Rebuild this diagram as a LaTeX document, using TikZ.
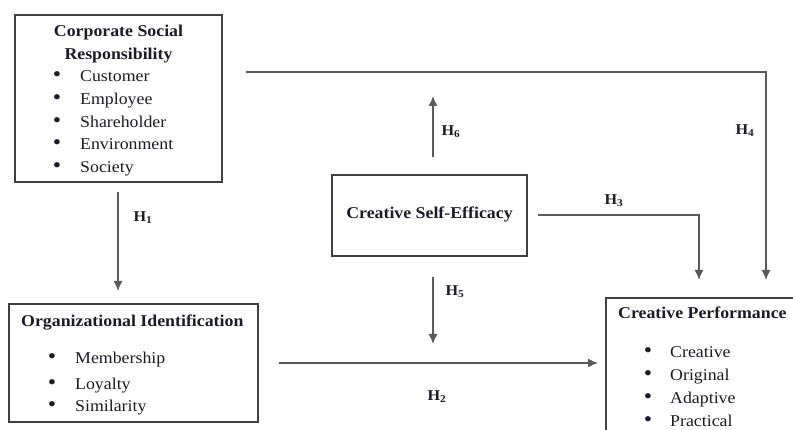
\documentclass[tikz,border=0pt]{standalone}
\usepackage{fontspec}
\setmainfont[FakeStretch=1.08]{Liberation Serif}
\usetikzlibrary{arrows.meta}
\definecolor{ink}{HTML}{1C1C28}
\definecolor{linegray}{HTML}{5A5A5A}
\definecolor{boxgray}{HTML}{404040}
\tikzset{
  box/.style={draw=boxgray, line width=1.3pt, rectangle, inner sep=0pt},
  conn/.style={draw=linegray, line width=1.4pt},
  arr/.style={conn, -{Latex[length=10pt,width=9pt]}},
  ttl/.style={font=\fontsize{16.5}{20}\selectfont\bfseries, text=ink, inner sep=0pt},
  itm/.style={font=\fontsize{16.5}{20}\selectfont, text=ink, inner sep=0pt, anchor=base west},
  bul/.style={font=\fontsize{22}{22}\selectfont, text=ink, inner sep=0pt, anchor=base},
  hl/.style={font=\fontsize{15}{18}\selectfont\bfseries, text=ink, inner sep=0pt},
}
\begin{document}
\begin{tikzpicture}[x=1pt,y=-1pt]
\clip (0,0) rectangle (793,430);
\fill[white] (0,0) rectangle (793,430);

% boxes
\node[box, minimum width=207pt, minimum height=167pt] (csr) at (118.5,98.5) {};
\node[box, minimum width=249pt, minimum height=118pt] (oi) at (133.5,363) {};
\node[box, minimum width=195pt, minimum height=81pt] (cse) at (429.5,215.5) {};
\node[box, minimum width=200pt, minimum height=150pt] (cp) at (706,373) {};

% CSR content
\node[ttl, anchor=base] (csrt1) at (118.5,37) {Corporate Social};
\node[ttl, anchor=base] (csrt2) at (118.5,60) {Responsibility};
\foreach \t/\y [count=\i] in {Customer/82, Employee/105, Shareholder/128, Environment/150, Society/173}{
  \node[bul] (csrb\i) at (57,\y) {•};
  \node[itm] (csri\i) at (80,\y) {\t};
}

% OI content
\node[ttl, anchor=base west] (oit) at (21,327) {Organizational Identification};
\foreach \t/\y [count=\i] in {Membership/364, Loyalty/389, Similarity/412}{
  \node[bul] (oib\i) at (52,\y) {•};
  \node[itm] (oii\i) at (75,\y) {\t};
}

% CSE content
\node[ttl, anchor=base] (cset) at (429.5,219) {Creative Self-Efficacy};

% CP content
\node[ttl, anchor=base west] (cpt) at (618,319) {Creative Performance};
\foreach \t/\y [count=\i] in {Creative/358, Original/381, Adaptive/404, Practical/427}{
  \node[bul] (cpb\i) at (648,\y) {•};
  \node[itm] (cpi\i) at (670,\y) {\t};
}

% connector end points
\coordinate (h1s) at (118,192);
\coordinate (h1e) at (118,291);
\coordinate (h6s) at (433,157);
\coordinate (h6e) at (433,96);
\coordinate (h5s) at (433,277);
\coordinate (h5e) at (433,344);
\coordinate (h2s) at (279,363);
\coordinate (h2e) at (598,363);
\coordinate (h3s) at (538,215);
\coordinate (h3e) at (699,280);
\coordinate (h4s) at (246,72);
\coordinate (h4e) at (766,280);

\draw[arr] (h1s) -- (h1e);
\draw[arr] (h6s) -- (h6e);
\draw[arr] (h5s) -- (h5e);
\draw[arr] (h2s) -- (h2e);
\draw[arr] (h3s) -| (h3e);
\draw[arr] (h4s) -| (h4e);

% labels
\node[hl] (lh1) at (143,218) {H\textsubscript{1}};
\node[hl] (lh2) at (437,397) {H\textsubscript{2}};
\node[hl] (lh3) at (614,201) {H\textsubscript{3}};
\node[hl] (lh4) at (745,131) {H\textsubscript{4}};
\node[hl] (lh5) at (455,292) {H\textsubscript{5}};
\node[hl] (lh6) at (451,132) {H\textsubscript{6}};
\end{tikzpicture}
\end{document}
